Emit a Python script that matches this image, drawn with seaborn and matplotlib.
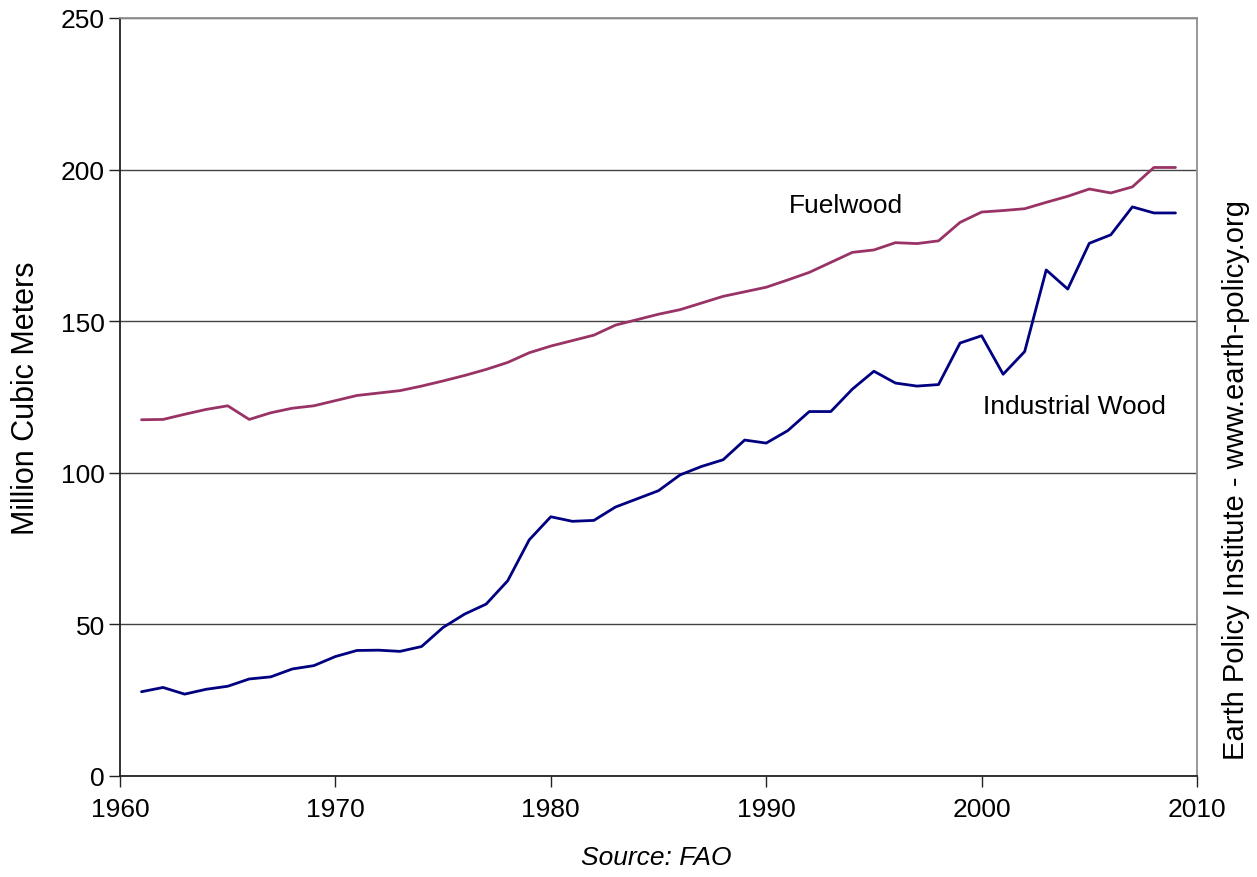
import numpy as np
import pandas as pd
import matplotlib
matplotlib.use('Agg')
import matplotlib.pyplot as plt
import seaborn as sns

# years 1961-2009, values in million cubic meters
years = list(range(1961, 2010))
fuelwood = [117.5, 117.6, 119.3, 120.9, 122.1, 117.6, 119.8, 121.3, 122.1, 123.8,
            125.5, 126.3, 127.1, 128.6, 130.3, 132.1, 134.1, 136.4, 139.6, 141.8,
            143.6, 145.4, 148.7, 150.5, 152.3, 153.8, 156.0, 158.2, 159.7, 161.2,
            163.6, 166.1, 169.4, 172.7, 173.5, 175.9, 175.6, 176.5, 182.6, 186.0,
            186.5, 187.1, 189.2, 191.2, 193.6, 192.3, 194.3, 200.7, 200.7]
industrial = [27.8, 29.2, 27.0, 28.6, 29.6, 32.0, 32.7, 35.3, 36.4, 39.4,
              41.4, 41.5, 41.1, 42.7, 49.0, 53.4, 56.7, 64.4, 77.9, 85.5,
              84.0, 84.3, 88.7, 91.4, 94.1, 99.3, 102.1, 104.3, 110.8, 109.8,
              113.9, 120.2, 120.2, 127.6, 133.5, 129.6, 128.6, 129.1, 142.8, 145.2,
              132.5, 140.0, 166.9, 160.6, 175.7, 178.5, 187.7, 185.7, 185.7]

df = pd.DataFrame({'Year': years * 2,
                   'Value': fuelwood + industrial,
                   'Series': ['Fuelwood'] * len(years) + ['Industrial Wood'] * len(years)})

sns.set_style('white')
plt.rcParams['font.family'] = ['Liberation Sans', 'DejaVu Sans']
plt.rcParams['text.color'] = 'black'
plt.rcParams['xtick.color'] = 'black'
plt.rcParams['ytick.color'] = 'black'
plt.rcParams['axes.labelcolor'] = 'black'

fig = plt.figure(figsize=(12.57, 8.78), dpi=100)
ax = fig.add_axes([120/1257, 1-777/878, (1197-120)/1257, (777-19)/878])

sns.lineplot(data=df, x='Year', y='Value', hue='Series',
             palette={'Fuelwood': '#993366', 'Industrial Wood': '#000080'},
             linewidth=2.0, legend=False, ax=ax)

ax.set_xlim(1960, 2010)
ax.set_ylim(0, 250)
ax.set_xticks(range(1960, 2011, 10))
ax.set_yticks(range(0, 251, 50))
ax.yaxis.grid(True, color='#444444', linewidth=1.0)
ax.set_axisbelow(True)

for side in ['left', 'bottom']:
    ax.spines[side].set_color('#222222')
    ax.spines[side].set_linewidth(1.3)
for side in ['right', 'top']:
    ax.spines[side].set_visible(True)
    ax.spines[side].set_color('#909090')
    ax.spines[side].set_linewidth(1.3)

ax.tick_params(axis='both', direction='out', length=8, width=1, color='#222222',
               labelsize=19, left=True, bottom=True)
ax.tick_params(axis='x', pad=7)
ax.tick_params(axis='y', pad=3)
ax.set_xlabel('')
ax.set_ylabel('Million Cubic Meters', fontsize=22)
ax.yaxis.set_label_coords(-0.073, 0.5)

ax.text(1993.7, 188.3, 'Fuelwood', fontsize=19, ha='center', va='center')
ax.text(2004.3, 122.0, 'Industrial Wood', fontsize=19, ha='center', va='center')

fig.text(656/1257, 1-858/878, 'Source: FAO', fontsize=19, style='italic',
         ha='center', va='center')
fig.text(1236/1257, 1-480/878, 'Earth Policy Institute - www.earth-policy.org',
         fontsize=21, rotation=90, ha='center', va='center')

fig.savefig('out.png', dpi=100)
